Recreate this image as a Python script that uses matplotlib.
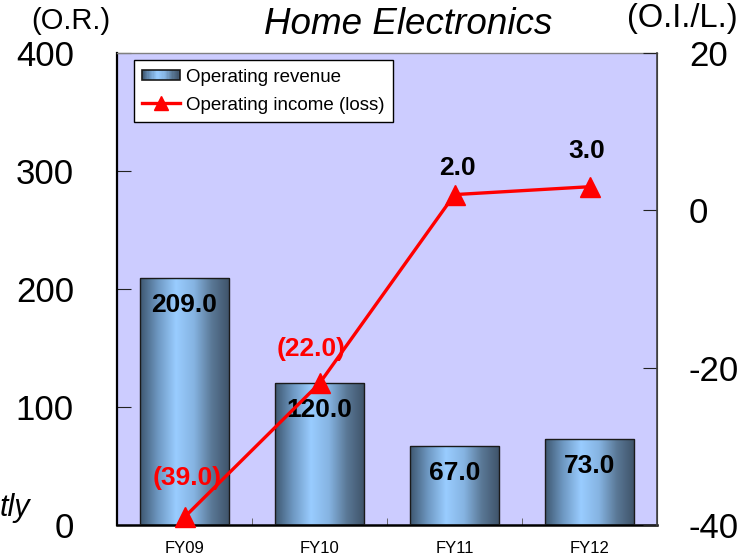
import numpy as np
import matplotlib
matplotlib.use("Agg")
import matplotlib.pyplot as plt
from matplotlib.colors import LinearSegmentedColormap
from matplotlib.patches import Rectangle
from matplotlib.lines import Line2D
from matplotlib.legend_handler import HandlerBase

plt.rcParams['font.family'] = ['Liberation Sans', 'DejaVu Sans']

categories = ["FY09", "FY10", "FY11", "FY12"]
revenue = [209.0, 120.0, 67.0, 73.0]
income = [-39.0, -22.0, 2.0, 3.0]
revenue_labels = ["209.0", "120.0", "67.0", "73.0"]
income_labels = ["(39.0)", "(22.0)", "2.0", "3.0"]
left_ticks = [0, 100, 200, 300, 400]
right_ticks = [-40, -20, 0, 20]

W, H = 754, 557
fig = plt.figure(figsize=(W / 100, H / 100), dpi=100)
ax = fig.add_axes([117 / W, 32 / H, 540 / W, 472 / H])
ax.set_facecolor("#CCCCFF")

cmap = LinearSegmentedColormap.from_list(
    "bar", ["#3E5770", "#6E98C2", "#99CCFF", "#86B4E2", "#5A7896", "#3E5268"])
grad = np.linspace(0, 1, 256).reshape(1, -1)

x = np.arange(len(categories))
bw = 0.66
bars = ax.bar(x, revenue, width=bw, facecolor="none", edgecolor="#1A1A1A",
              linewidth=1.0, zorder=3)
for b in bars:
    x0, y0 = b.get_x(), b.get_y()
    w, h = b.get_width(), b.get_height()
    im = ax.imshow(grad, cmap=cmap, aspect="auto",
                   extent=[x0, x0 + w, y0, y0 + h], zorder=2)
    clip = Rectangle((x0, y0), w, h, transform=ax.transData)
    im.set_clip_path(clip)

ax.set_xlim(-0.5, 3.5)
ax.set_ylim(0, 400)
ax.set_yticks(left_ticks)
ax.set_yticklabels([str(t) for t in left_ticks], fontsize=25)
ax.tick_params(axis="y", direction="in", length=10, pad=31, color="#222222")
ax.set_xticks(x)
ax.set_xticklabels(categories, fontsize=12)
ax.tick_params(axis="x", length=0, pad=11.5)
ax.set_xticks([0.5, 1.5, 2.5], minor=True)
ax.tick_params(axis="x", which="minor", direction="in", length=5, color="#555555")

for xi, v, lab in zip(x, revenue, revenue_labels):
    ax.annotate(lab, (xi, v), xytext=(0, -19.5), textcoords="offset points",
                ha="center", va="center", fontsize=19, fontweight="bold",
                color="black", zorder=5)

ax.spines["left"].set_linewidth(1.6)
ax.spines["left"].set_color("black")
ax.spines["bottom"].set_linewidth(1.8)
ax.spines["bottom"].set_color("black")
ax.spines["top"].set_color("#808080")
ax.spines["top"].set_linewidth(1.0)
ax.spines["right"].set_color("#404040")

ax2 = ax.twinx()
ax2.set_ylim(-40, 20)
ax2.set_yticks(right_ticks)
ax2.set_yticklabels([str(t) for t in right_ticks], fontsize=25)
ax2.tick_params(axis="y", direction="in", length=10, pad=23, color="#222222")
ax2.spines["right"].set_color("#404040")
ax2.spines["right"].set_linewidth(1.2)
ax2.spines["top"].set_visible(False)
ax2.spines["left"].set_visible(False)
ax2.spines["bottom"].set_visible(False)

ax2.plot(x, income, color="red", linewidth=2.4, marker="^", markersize=14,
         markeredgecolor="red", markerfacecolor="red", zorder=4, clip_on=False)

offsets = [(2, 28), (-6, 25), (2, 19.5), (-2, 26)]
for xi, v, lab, off in zip(x, income, income_labels, offsets):
    col = "red" if v < 0 else "black"
    ax2.annotate(lab, (xi, v), xytext=off, textcoords="offset points",
                 ha="center", va="center", fontsize=19, fontweight="bold",
                 color=col, zorder=6)


class GradHandler(HandlerBase):
    def create_artists(self, legend, orig_handle, xdescent, ydescent,
                       width, height, fontsize, trans):
        arts = []
        n = 30
        hh = height * 0.8
        y0 = -ydescent + (height - hh) / 2
        for i in range(n):
            c = cmap((i + 0.5) / n)
            r = Rectangle((-xdescent + width * i / n, y0), width / n + 0.3, hh,
                          facecolor=c, edgecolor="none", transform=trans)
            arts.append(r)
        arts.append(Rectangle((-xdescent, y0), width, hh, facecolor="none",
                              edgecolor="#1A1A1A", linewidth=1.2, transform=trans))
        return arts


bar_handle = Rectangle((0, 0), 1, 1)
line_handle = Line2D([], [], color="red", linewidth=2.4, marker="^",
                     markersize=10, markerfacecolor="red", markeredgecolor="red")
leg = ax2.legend([bar_handle, line_handle],
                 ["Operating revenue", "Operating income (loss)"],
                 handler_map={Rectangle: GradHandler()},
                 loc="upper left", bbox_to_anchor=(134 / W, 1 - 60 / H),
                 bbox_transform=fig.transFigure, fontsize=13.5,
                 frameon=True, fancybox=False, borderaxespad=0,
                 handlelength=2.0, handletextpad=0.35, borderpad=0.45,
                 labelspacing=0.6, numpoints=1)
leg.get_frame().set_edgecolor("black")
leg.get_frame().set_linewidth(1.0)
leg.get_frame().set_facecolor("white")
leg.get_frame().set_alpha(1)
leg.set_zorder(10)

fig.text(408 / W, 1 - 25 / H, "Home Electronics", fontsize=26.5, style="italic",
         ha="center", va="center")
fig.text(71 / W, 1 - 21 / H, "(O.R.)", fontsize=21, ha="center", va="center")
fig.text(682 / W, 1 - 18 / H, "(O.I./L.)", fontsize=23.5, ha="center", va="center")
fig.text(0 / W, 1 - 508 / H, "tly", fontsize=22, style="italic",
         ha="left", va="center")

fig.savefig("out.png", dpi=100)
